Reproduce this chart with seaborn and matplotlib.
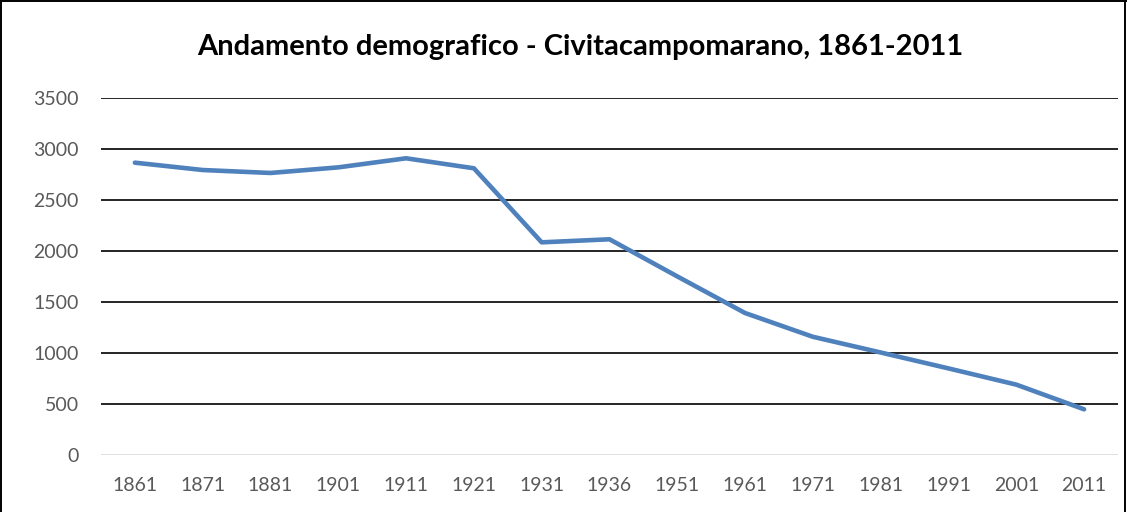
import numpy as np
import pandas as pd
import matplotlib
matplotlib.use("Agg")
import matplotlib.pyplot as plt
from matplotlib.lines import Line2D
import seaborn as sns

# ======= Data =======
years = ["1861", "1871", "1881", "1901", "1911", "1921", "1931", "1936",
         "1951", "1961", "1971", "1981", "1991", "2001", "2011"]
population = [2866, 2794, 2765, 2820, 2909, 2811, 2085, 2115,
              1751, 1392, 1159, 1005, 849, 690, 448]
y_ticks = [0, 500, 1000, 1500, 2000, 2500, 3000, 3500]

df = pd.DataFrame({"anno": years, "abitanti": population})

# ======= Style =======
sns.set_theme(style="white")
plt.rcParams['font.family'] = ['Lato', 'DejaVu Sans']

fig = plt.figure(figsize=(11.27, 5.12), dpi=100)
ax = fig.add_axes([0.0896, 0.1113, 0.9024, 0.6973])

x_pos = np.arange(len(years))
df["pos"] = x_pos
sns.lineplot(data=df, x="pos", y="abitanti", ax=ax, color="#4F81BD",
             linewidth=3.3, sort=False, zorder=3,
             solid_capstyle="round", solid_joinstyle="round")

ax.set_xlim(-0.5, len(years) - 0.5)
ax.set_ylim(0, 3500)
ax.set_xticks(x_pos)
ax.set_xticklabels(years)
ax.set_yticks(y_ticks)
ax.set_xlabel("")
ax.set_ylabel("")

# gridlines: black, zero line light grey
for v in y_ticks[1:]:
    ax.axhline(v, color="black", linewidth=1.2, zorder=1)
ax.axhline(0, color="#D9D9D9", linewidth=1.2, zorder=1)

for s in ax.spines.values():
    s.set_visible(False)

ax.tick_params(axis="both", length=0, labelsize=14, colors="#595959")
ax.tick_params(axis="x", pad=16)
ax.tick_params(axis="y", pad=16)

fig.text(0.515, 0.908, "Andamento demografico - Civitacampomarano, 1861-2011",
         ha="center", va="center", fontsize=21, fontweight="bold", color="black")

# outer frame (left, top, right)
for xs, ys in [([0.001, 0.001], [0, 1]), ([0, 1], [0.998, 0.998]),
               ([0.9985, 0.9985], [0, 1])]:
    fig.add_artist(Line2D(xs, ys, color="black", linewidth=1.4,
                          transform=fig.transFigure))

fig.savefig("out.png", dpi=100)
